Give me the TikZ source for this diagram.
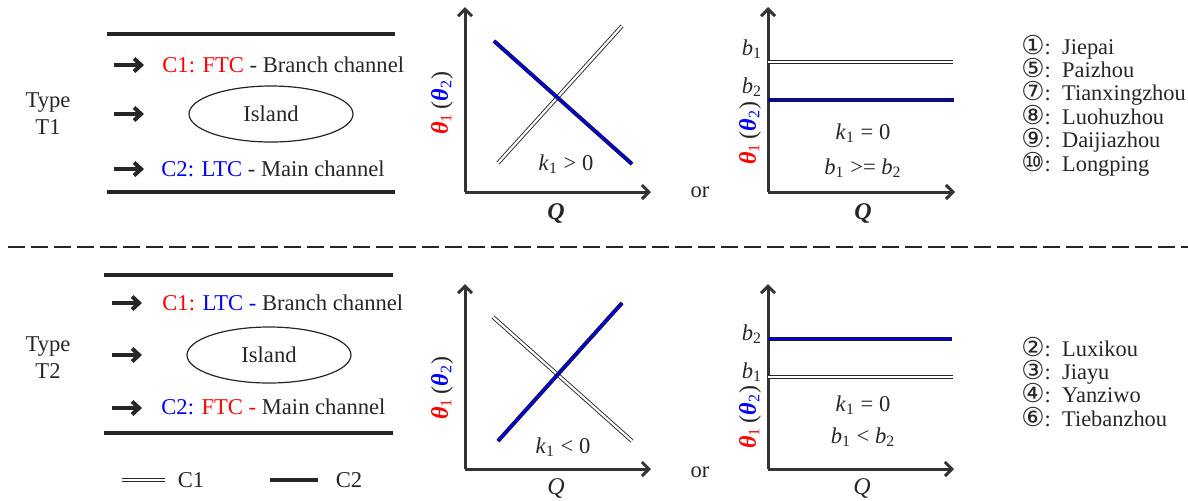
\documentclass[tikz,border=0pt]{standalone}
\usepackage{fontspec}
\setmainfont{Liberation Serif}
\newfontfamily\circfont{DejaVu Sans}
\usetikzlibrary{arrows.meta,shapes.geometric}
\newcommand{\isub}[2]{\textit{#1}\textsubscript{#2}}
\newcommand{\thlab}{\textcolor{red}{\textbf{\textit{θ}}\textsubscript{1}}\,(\textcolor{blue}{\textbf{\textit{θ}}\textsubscript{2}})}
\newcommand{\circn}[1]{{\circfont\fontsize{13}{13}\selectfont #1}}
\begin{document}
\begin{tikzpicture}[x=0.5pt,y=-0.5pt,
  txt/.style={font=\fontsize{11.3}{13.5}\selectfont,text=black!85,inner sep=0pt},
  lgd/.style={font=\fontsize{11.2}{13.5}\selectfont,text=black!85,inner sep=0pt,anchor=base west},
  bank/.style={line width=2.2pt,black!85},
  flow/.style={line width=2pt,black!85,-{Straight Barb[length=3.5pt,width=6.5pt]}},
  axis/.style={line width=1.5pt,black!80,-{Straight Barb[length=3.5pt,width=7pt]}},
  cone/.style={draw=black!85,line width=0.45pt,double=white,double distance=1.1pt},
  ctwo/.style={draw=black!90,line width=0.4pt,double=blue!90!black,double distance=1.2pt},
  island/.style={ellipse,draw=black!85,line width=0.6pt,minimum width=82pt,minimum height=28pt}]
\useasboundingbox (0,0) rectangle (1188,500);
% type T1
\node[txt,align=center] (typa) at (48,114) {Type\\T1};
\draw[bank] (107,34) -- (395,34);
\draw[bank] (107,192) -- (395,192);
\foreach \y/\n in {65/a,114/b,169/c} \draw[flow] (114,\y) -- (144,\y) coordinate (fa\n);
\node[txt,anchor=west] (bra) at (162,65) {\textcolor{red}{C1: FTC} - Branch channel};
\node[txt,island] (isla) at (271,114) {Island};
\node[txt,anchor=west] (maa) at (161,169) {\textcolor{blue}{C2: LTC} - Main channel};
\coordinate (oa) at (465,192);
\draw[axis] (oa) -- (465,7);
\draw[axis] (oa) -- (651,192);
\draw[cone] (498,163) -- (622,26);
\draw[ctwo] (494,41) -- (632,164);
\node[txt] (ka) at (566,164) {\isub{k}{1} > 0};
\node[txt,font=\fontsize{12}{12}\selectfont] (qa) at (556,213) {\textbf{\textit{Q}}};
\node[txt,rotate=90,font=\fontsize{12}{12}\selectfont] (tha) at (442,103) {\thlab};
\node[txt] (ora) at (700,192) {or};
\coordinate (ob) at (768,192);
\draw[axis] (ob) -- (768,7);
\draw[axis] (ob) -- (955,192);
\draw[cone] (768,62) -- (953,62);
\draw[ctwo] (768,100) -- (954,100);
\node[txt] (bb1) at (752,49) {\isub{b}{1}};
\node[txt] (bb2) at (752,87) {\isub{b}{2}};
\node[txt,rotate=90,font=\fontsize{12}{12}\selectfont] (thb) at (750,133) {\thlab};
\node[txt] (kb) at (863,133) {\isub{k}{1} = 0};
\node[txt] (rb) at (863,168) {\isub{b}{1} >= \isub{b}{2}};
\node[txt,font=\fontsize{12}{12}\selectfont] (qb) at (863,213) {\textbf{\textit{Q}}};
\foreach \c/\s [count=\i] in {①/Jiepai,⑤/Paizhou,⑦/Tianxingzhou,⑧/Luohuzhou,⑨/Daijiazhou,⑩/Longping}
  \node[lgd] (lga\i) at (1021,{54+23.4*(\i-1)}) {\circn{\c}:\ \ \s};
% separator
\draw[line width=1.1pt,black!85,dash pattern=on 8.5pt off 3pt] (8,247) -- (1188,247);
% type T2
\node[txt,align=center] (typb) at (48,358) {Type\\T2};
\draw[bank] (104,275) -- (393,275);
\draw[bank] (104,433) -- (393,433);
\foreach \y/\n in {303/a,355/b,408/c} \draw[flow] (112,\y) -- (142,\y) coordinate (fb\n);
\node[txt,anchor=west] (brb) at (162,303) {\textcolor{red}{C1:} \textcolor{blue}{LTC -} Branch channel};
\node[txt,island] (islb) at (269,355) {Island};
\node[txt,anchor=west] (mab) at (161,407) {\textcolor{blue}{C2:} \textcolor{red}{FTC -} Main channel};
\coordinate (oc) at (465,469);
\draw[axis] (oc) -- (465,284);
\draw[axis] (oc) -- (651,469);
\draw[cone] (493,317) -- (632,441);
\draw[ctwo] (498,441) -- (622,303);
\node[txt] (kc) at (563,447) {\isub{k}{1} < 0};
\node[txt,font=\fontsize{12}{12}\selectfont] (qc) at (556,488) {\textit{Q}};
\node[txt,rotate=90,font=\fontsize{12}{12}\selectfont] (thc) at (442,388) {\thlab};
\node[txt] (orb) at (700,472) {or};
\coordinate (od) at (768,469);
\draw[axis] (od) -- (768,284);
\draw[axis] (od) -- (954,469);
\draw[ctwo] (768,339) -- (952,339);
\draw[cone] (768,377) -- (953,377);
\node[txt] (bd2) at (752,334) {\isub{b}{2}};
\node[txt] (bd1) at (752,372) {\isub{b}{1}};
\node[txt,rotate=90,font=\fontsize{12}{12}\selectfont] (thd) at (750,417) {\thlab};
\node[txt] (kd) at (863,405) {\isub{k}{1} = 0};
\node[txt] (rd) at (863,437) {\isub{b}{1} < \isub{b}{2}};
\node[txt,font=\fontsize{12}{12}\selectfont] (qd) at (862,488) {\textit{Q}};
\foreach \c/\s [count=\i] in {②/Luxikou,③/Jiayu,④/Yanziwo,⑥/Tiebanzhou}
  \node[lgd] (lgb\i) at (1021,{356+23.4*(\i-1)}) {\circn{\c}:\ \ \s};
% legend
\draw[cone] (122,480) coordinate (lc1) -- (165,480) coordinate (lc2);
\node[txt] (lcone) at (191,480) {C1};
\draw[bank] (270,480) coordinate (lt1) -- (318,480) coordinate (lt2);
\node[txt] (lctwo) at (349,480) {C2};
\end{tikzpicture}
\end{document}
